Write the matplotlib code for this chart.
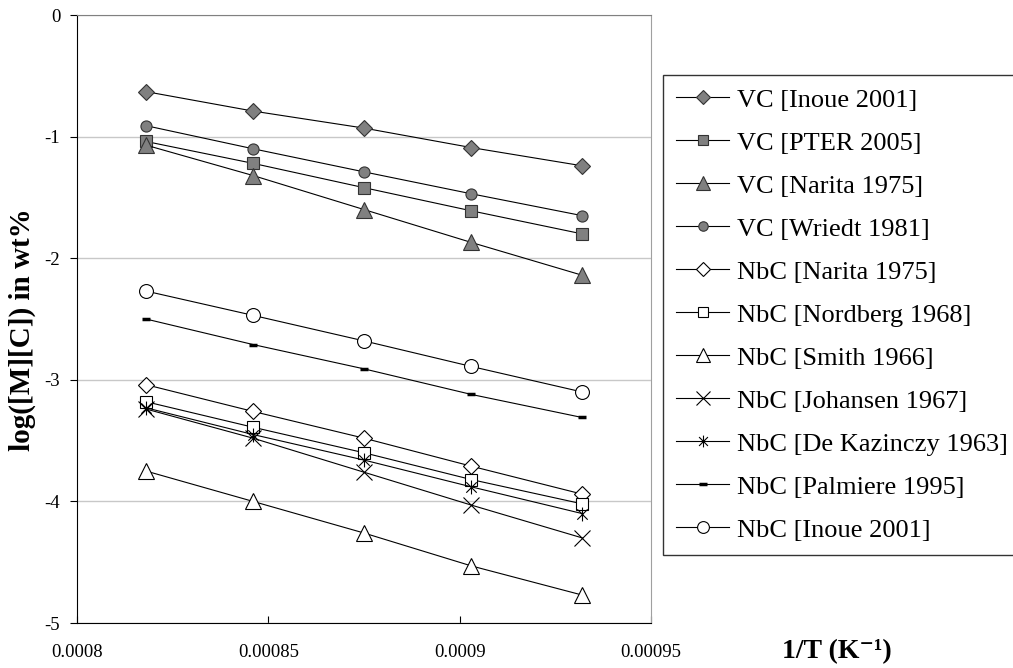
import matplotlib
matplotlib.use('Agg')
import matplotlib.pyplot as plt
from matplotlib.path import Path

# data
inv_T = [0.000818, 0.000846, 0.000875, 0.000903, 0.000932]

vc_inoue = [-0.63, -0.79, -0.93, -1.09, -1.24]
vc_pter = [-1.04, -1.22, -1.42, -1.61, -1.80]
vc_narita = [-1.07, -1.32, -1.60, -1.87, -2.14]
vc_wriedt = [-0.91, -1.10, -1.29, -1.47, -1.65]
nbc_narita = [-3.04, -3.26, -3.48, -3.71, -3.94]
nbc_nordberg = [-3.18, -3.39, -3.60, -3.82, -4.02]
nbc_smith = [-3.75, -4.00, -4.26, -4.53, -4.77]
nbc_johansen = [-3.24, -3.48, -3.76, -4.03, -4.30]
nbc_dekazinczy = [-3.23, -3.45, -3.66, -3.88, -4.10]
nbc_palmiere = [-2.50, -2.71, -2.91, -3.12, -3.31]
nbc_inoue = [-2.27, -2.47, -2.68, -2.89, -3.10]

labels = ['VC [Inoue 2001]', 'VC [PTER 2005]', 'VC [Narita 1975]', 'VC [Wriedt 1981]',
          'NbC [Narita 1975]', 'NbC [Nordberg 1968]', 'NbC [Smith 1966]',
          'NbC [Johansen 1967]', 'NbC [De Kazinczy 1963]', 'NbC [Palmiere 1995]',
          'NbC [Inoue 2001]']
xticks = [0.0008, 0.00085, 0.0009, 0.00095]
xticklabels = ['0.0008', '0.00085', '0.0009', '0.00095']
yticks = [0, -1, -2, -3, -4, -5]

plt.rcParams['font.family'] = ['Liberation Serif', 'DejaVu Serif']

# excel style asterisk: vertical bar plus an x
asterisk = Path([(0, -1), (0, 1), (-0.75, -0.75), (0.75, 0.75), (-0.75, 0.75), (0.75, -0.75)],
                [Path.MOVETO, Path.LINETO, Path.MOVETO, Path.LINETO, Path.MOVETO, Path.LINETO])

gray = '#808080'
edge = '#333333'

fig = plt.figure(figsize=(10.13, 6.68), dpi=100)
ax = fig.add_axes([77 / 1013, 45 / 668, 574 / 1013, 608 / 668])

lw = 0.8
ax.plot(inv_T, vc_inoue, color='black', lw=lw, marker='D', ms=8, mfc=gray, mec=edge, mew=0.8, label=labels[0])
ax.plot(inv_T, vc_pter, color='black', lw=lw, marker='s', ms=8, mfc=gray, mec=edge, mew=0.8, label=labels[1])
ax.plot(inv_T, vc_narita, color='black', lw=lw, marker='^', ms=12, mfc=gray, mec=edge, mew=0.8, label=labels[2])
ax.plot(inv_T, vc_wriedt, color='black', lw=lw, marker='o', ms=8, mfc=gray, mec=edge, mew=0.8, label=labels[3])
ax.plot(inv_T, nbc_narita, color='black', lw=lw, marker='D', ms=8, mfc='white', mec='black', mew=0.8, label=labels[4])
ax.plot(inv_T, nbc_nordberg, color='black', lw=lw, marker='s', ms=8, mfc='white', mec='black', mew=0.8, label=labels[5])
ax.plot(inv_T, nbc_smith, color='black', lw=lw, marker='^', ms=12, mfc='white', mec='black', mew=0.8, label=labels[6])
ax.plot(inv_T, nbc_johansen, color='black', lw=lw, marker='x', ms=12, mec='black', mew=0.8, label=labels[7])
ax.plot(inv_T, nbc_dekazinczy, color='black', lw=lw, marker=asterisk, ms=10, mec='black', mew=0.8, label=labels[8])
ax.plot(inv_T, nbc_palmiere, color='black', lw=lw, marker='_', ms=6, mec='black', mew=2.5, label=labels[9])
ax.plot(inv_T, nbc_inoue, color='black', lw=lw, marker='o', ms=10, mfc='white', mec='black', mew=0.8, label=labels[10])

ax.set_xlim(0.0008, 0.00095)
ax.set_ylim(-5, 0)
ax.set_xticks(xticks)
ax.set_xticklabels(xticklabels)
ax.set_yticks(yticks)
ax.set_yticklabels([str(v) for v in yticks])

ax.tick_params(axis='x', direction='in', length=5, pad=15, width=0.8, labelsize=13.5)
ax.tick_params(axis='y', direction='out', length=5, pad=7, width=0.8, labelsize=13.5)

ax.grid(axis='y', color='#c8c8c8', lw=1)
ax.set_axisbelow(True)
ax.spines['top'].set_color('#808080')
ax.spines['right'].set_color('#a0a0a0')
ax.spines['left'].set_color('black')
ax.spines['bottom'].set_color('black')

fig.text(22 / 1013, 1 - 330 / 668, 'log([M][C]) in wt%', rotation=90, ha='center', va='center',
         fontweight='bold', fontsize=21)
fig.text(837 / 1013, 1 - 652 / 668, '1/T (K\u207b\u00b9)', ha='center', va='center',
         fontweight='bold', fontsize=20)

leg = ax.legend(loc='upper left', bbox_to_anchor=(663 / 1013, 1 - 75 / 668),
                bbox_transform=fig.transFigure, borderaxespad=0, frameon=True, fancybox=False,
                prop={'size': 19}, labelspacing=0.74,
                handlelength=2.0, handletextpad=0.3, borderpad=0.5, markerscale=0.85)
leg.get_frame().set_edgecolor('black')
leg.get_frame().set_linewidth(1.0)

fig.savefig('out.png', dpi=100)
